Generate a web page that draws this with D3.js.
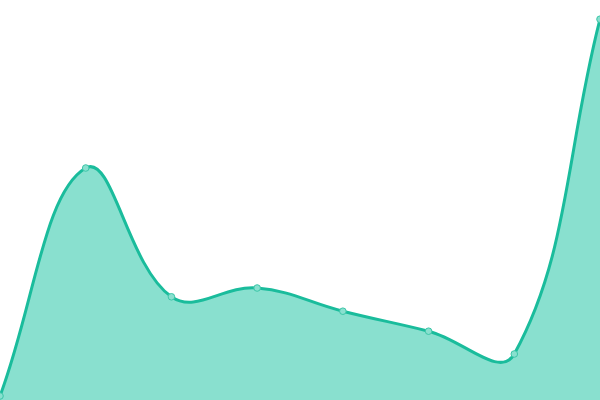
<!DOCTYPE html>
<html>
<head>
<meta charset="utf-8">
<script src="https://cdn.jsdelivr.net/npm/d3@7"></script>
<style>
  html, body { margin: 0; padding: 0; background: #fff; }
  svg { display: block; }
</style>
</head>
<body>
<div id="chart"></div>
<script>
var categories = [0, 1, 2, 3, 4, 5, 6, 7];
var values = [1, 58, 25.8, 28, 22.2, 17.2, 11.5, 95.2];

var width = 600, height = 400;
var tension = 0.4;

var svg = d3.select("#chart")
  .append("svg")
    .attr("width", width)
    .attr("height", height);

var x = d3.scaleLinear()
  .domain([0, categories.length - 1])
  .range([0, width]);

var y = d3.scaleLinear()
  .domain([0, 100])
  .range([height, 0]);

var points = categories.map(function(c, i) {
  return { x: x(c), y: y(values[i]) };
});

// spline control points, weighted by the distance to each neighbour
function controls(pts, t) {
  var clampX = v => Math.max(0, Math.min(width, v));
  var clampY = v => Math.max(0, Math.min(height, v));
  return pts.map(function(cur, i) {
    var prev = pts[i - 1] || cur, next = pts[i + 1] || cur;
    var d01 = Math.hypot(cur.x - prev.x, cur.y - prev.y);
    var d12 = Math.hypot(next.x - cur.x, next.y - cur.y);
    var s01 = d01 / (d01 + d12) || 0;
    var s12 = d12 / (d01 + d12) || 0;
    var fa = t * s01, fb = t * s12;
    return {
      px: clampX(cur.x - fa * (next.x - prev.x)),
      py: clampY(cur.y - fa * (next.y - prev.y)),
      nx: clampX(cur.x + fb * (next.x - prev.x)),
      ny: clampY(cur.y + fb * (next.y - prev.y))
    };
  });
}

function spline(pts, p) {
  var cp = controls(pts, tension);
  p.moveTo(pts[0].x, pts[0].y);
  for (var i = 1; i < pts.length; i++) {
    p.bezierCurveTo(cp[i - 1].nx, cp[i - 1].ny, cp[i].px, cp[i].py, pts[i].x, pts[i].y);
  }
  return p;
}

var areaPath = spline(points, d3.path());
areaPath.lineTo(points[points.length - 1].x, y(0));
areaPath.lineTo(points[0].x, y(0));
areaPath.closePath();

svg.append("path")
  .attr("d", areaPath.toString())
  .style("fill", "#89e0cf");

svg.append("path")
  .attr("d", spline(points, d3.path()).toString())
  .style("fill", "none")
  .style("stroke", "#1abc9c")
  .style("stroke-width", 3);

svg.selectAll(".dot")
  .data(points)
  .enter()
  .append("circle")
    .attr("class", "dot")
    .attr("cx", d => d.x)
    .attr("cy", d => d.y)
    .attr("r", 3.3)
    .style("fill", "#89e0cf")
    .style("stroke", "#3cc6a8")
    .style("stroke-width", 1);
</script>
</body>
</html>
